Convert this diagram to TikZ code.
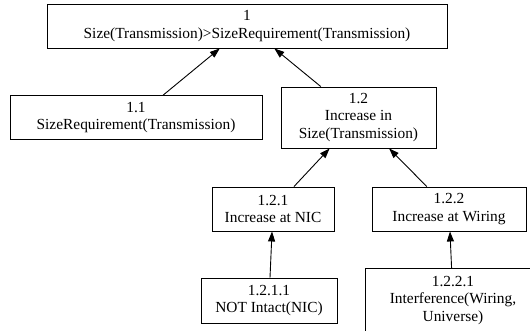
\documentclass[tikz,border=0pt]{standalone}
\usepackage{fontspec}
\setmainfont{Liberation Serif}
\usetikzlibrary{arrows.meta}

\begin{document}
\begin{tikzpicture}[-{Triangle[length=10pt,width=7pt]},line width=0.9pt,
            node distance=91.5pt,
            goal node/.style={draw,rectangle,align=center,inner sep=2pt,
              minimum height=44pt,font=\fontsize{15.4}{17.5}\selectfont}]

        \useasboundingbox (0,0) rectangle (530pt,-330pt);
        \clip (0,0) rectangle (530pt,-330pt);

        % Define goals
        \node[goal node,minimum width=400pt] (g1) at (247pt,-26pt)
            {1\\Size(Transmission)>SizeRequirement(Transmission)};
        \node[goal node,minimum width=252pt] (g11) [below of=g1,xshift=-111pt]
            {1.1\\SizeRequirement(Transmission)};
        \node[goal node,minimum width=155pt,minimum height=61pt] (g12) [below of=g1,xshift=111.5pt]
            {1.2\\Increase in\\Size(Transmission)};
        \node[goal node,minimum width=122pt] (g121) [below of=g12,xshift=-85.5pt]
            {1.2.1\\Increase at NIC};
        \node[goal node,minimum width=154pt] (g122) [below of=g12,xshift=90.5pt]
            {1.2.2\\Increase at Wiring};
        \node[goal node,minimum width=136pt,minimum height=45pt] (g1211) [below of=g121,xshift=-4pt]
            {1.2.1.1\\NOT Intact(NIC)};
        \node[goal node,minimum width=176pt,minimum height=64pt] (g1221) [below of=g122,xshift=4pt]
            {1.2.2.1\\Interference(Wiring,\\Universe)};

        % Draw refinements
        \path
            (g11) edge (g1)
            (g12) edge (g1)
            (g121) edge (g12)
            (g122) edge (g12)
            (g1211) edge (g121)
            (g1221) edge (g122);

\end{tikzpicture}
\end{document}
